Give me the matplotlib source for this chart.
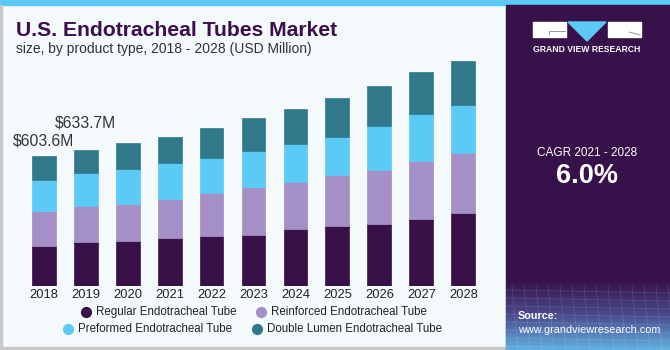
import matplotlib.pyplot as plt
import numpy as np
from matplotlib.colors import LinearSegmentedColormap
from matplotlib.patches import Rectangle, Polygon

years = ["2018", "2019", "2020", "2021", "2022", "2023", "2024", "2025", "2026", "2027", "2028"]
regular = [187, 203, 210, 221, 231, 238, 265, 277, 289, 311, 338]
reinforced = [162.5, 168, 172, 181, 200, 221, 220, 237, 248, 269, 279]
preformed = [142.5, 152, 160, 167, 161, 170, 174, 179, 206, 218, 224]
double_lumen = [111.6, 110.7, 124, 124, 141, 150, 165, 178, 184, 195, 203]
series_names = ["Regular Endotracheal Tube", "Reinforced Endotracheal Tube",
                "Preformed Endotracheal Tube", "Double Lumen Endotracheal Tube"]
colors = ["#371148", "#A490C6", "#5BCAF6", "#2F798B"]
callouts = {0: "$603.6M", 1: "$633.7M"}

W, H = 670, 350
fig = plt.figure(figsize=(W / 100, H / 100), dpi=100)
fig.patch.set_facecolor("#F4F9FC")


def px(x, y):
    # figure pixel (from top-left) -> figure fraction
    return x / W, 1 - y / H


# background decoration
bg = fig.add_axes([0, 0, 1, 1])
bg.set_xlim(0, W)
bg.set_ylim(H, 0)
bg.axis("off")
bg.add_patch(Rectangle((0, 0), W, 5, color="#5BC8F5"))
bg.add_patch(Rectangle((0, 5), 2, H, color="#C8C8C8"))
bg.add_patch(Rectangle((0, 347), 506, 3, color="#C8C8C8"))
bg.add_patch(Rectangle((506, 5), W - 506, H, color="#371149"))
grad = np.linspace(0, 1, 100).reshape(-1, 1)
cmap = LinearSegmentedColormap.from_list("g", ["#371149", "#4A4A8C", "#5FB0E0"])
bg.imshow(grad, extent=(506, W, 350, 280), cmap=cmap, aspect="auto", zorder=1)
for yy in np.arange(290, 350, 8):
    bg.plot([506, W], [yy, yy + 3], color="white", alpha=0.12, lw=0.6, zorder=2)
for xx in np.arange(500, 690, 12):
    bg.plot([xx, xx + 6], [285, 350], color="white", alpha=0.12, lw=0.6, zorder=2)

# logo
bg.add_patch(Rectangle((533, 22), 33, 15, color="white", zorder=3))
bg.add_patch(Rectangle((608, 22), 33, 15, color="white", zorder=3))
bg.add_patch(Polygon([(568, 22), (606, 22), (587, 41)], closed=True, color="#5BC8F5", zorder=3))
bg.plot([549, 549, 565], [34, 31, 31], color="#888888", lw=0.6, zorder=4)
bg.plot([629, 640], [32, 35], color="#888888", lw=0.6, zorder=4)
bg.text(587, 50, "GRAND VIEW RESEARCH", color="white", fontsize=6.2, fontweight="bold",
        ha="center", va="center", family="Liberation Sans", zorder=4)

# titles
fig.text(*px(16, 30), "U.S. Endotracheal Tubes Market", fontsize=15.2, fontweight="bold",
         color="#3A0F4A", va="center", ha="left", family="Liberation Sans")
fig.text(*px(16, 49), "size, by product type, 2018 - 2028 (USD Million)", fontsize=10,
         color="#333333", va="center", ha="left", family="Liberation Sans")

# CAGR panel
fig.text(*px(587, 153), "CAGR 2021 - 2028", fontsize=8.5, color="white",
         ha="center", va="center", family="Liberation Sans")
fig.text(*px(587, 176), "6.0%", fontsize=19.5, color="white", fontweight="bold",
         ha="center", va="center", family="Liberation Sans")
fig.text(*px(518, 316), "Source:", fontsize=7.8, color="white", fontweight="bold",
         ha="left", va="center", family="Liberation Sans")
fig.text(*px(518, 330), "www.grandviewresearch.com", fontsize=7.8, color="white",
         ha="left", va="center", family="Liberation Sans")

# bars
step = 41.96
x0 = 43.7
ax = fig.add_axes([0, 64 / H, 506 / W, 276 / H])
ax.set_xlim(-x0 / step, (506 - x0) / step)
scale = 603.6 / 130
ax.set_ylim(0, 276 * scale)
ax.axis("off")
x = np.arange(len(years))
bottom = np.zeros(len(years))
for vals, c in zip([regular, reinforced, preformed, double_lumen], colors):
    ax.bar(x, vals, bottom=bottom, width=0.57, color=c, edgecolor=c, linewidth=0.5)
    bottom += np.array(vals)

offsets = {0: 11, 1: 19}
for i, label in callouts.items():
    ax.annotate(label, (x[i], bottom[i]), xytext=(0, offsets[i]), textcoords="offset points",
                ha="center", va="center", fontsize=11.3, color="#333333", family="Liberation Sans")

for i, yr in enumerate(years):
    fig.text(*px(x0 + i * step, 295), yr, fontsize=9.3, color="#222222",
             ha="center", va="center", family="Liberation Sans")

# legend
legend_pos = [(86, 312), (261, 312), (68, 329), (257, 329)]
for (lx, ly), name, c in zip(legend_pos, series_names, colors):
    bg.scatter([lx], [ly], s=50, color=c, zorder=5)
    bg.text(lx + 10, ly, name, fontsize=8.3, color="#222222", ha="left", va="center",
            family="Liberation Sans", zorder=5)

fig.savefig("out.png", dpi=100, facecolor=fig.get_facecolor())
